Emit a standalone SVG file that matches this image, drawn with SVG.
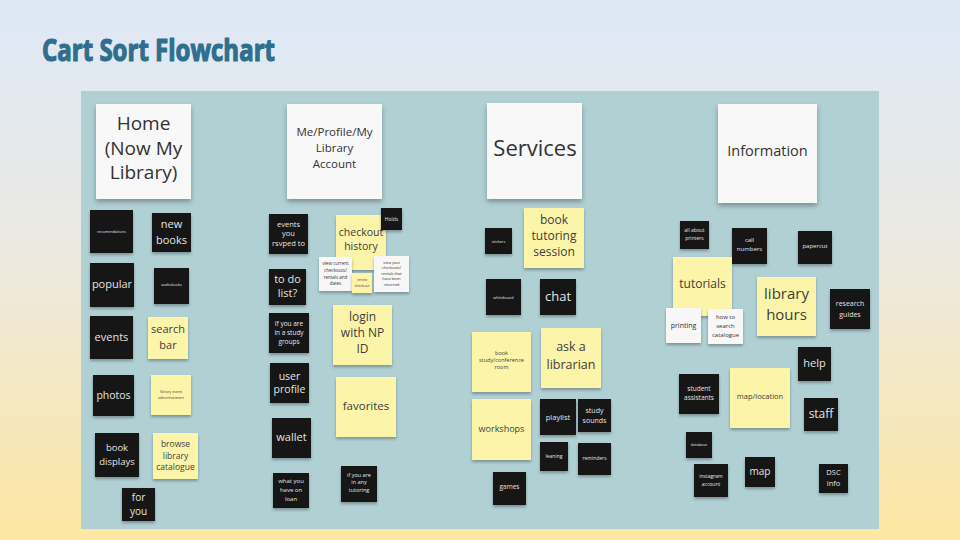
<svg xmlns="http://www.w3.org/2000/svg" width="960" height="540" viewBox="0 0 960 540">
<defs>
<linearGradient id="bg" x1="0" y1="0" x2="0" y2="1">
<stop offset="0" stop-color="#dde8f7"/>
<stop offset="0.45" stop-color="#ebe9e2"/>
<stop offset="1" stop-color="#fde7a2"/>
</linearGradient>
<filter id="sh" x="-20%" y="-20%" width="140%" height="150%">
<feDropShadow dx="0" dy="2" stdDeviation="1.5" flood-color="#000" flood-opacity="0.3"/>
</filter>
<filter id="shb" x="-20%" y="-20%" width="140%" height="150%">
<feDropShadow dx="0" dy="3" stdDeviation="2.5" flood-color="#000" flood-opacity="0.3"/>
</filter>
</defs>
<style>
text{font-family:"Open Sans","Noto Sans","DejaVu Sans",sans-serif;text-anchor:middle}
.blk{fill:#151515;filter:url(#sh)}
.yel{fill:#fcf5a9;filter:url(#sh)}
.wht{fill:#f7f7f7;filter:url(#sh)}
.hdr{fill:#f8f8f8;filter:url(#shb)}
.tb{fill:#e4e4e4}
.ty{fill:#3d3d3d}
.tw{fill:#333}
</style>
<rect width="960" height="540" fill="url(#bg)"/>
<text x="42" y="61" font-family="'Liberation Sans Narrow','DejaVu Sans Condensed','Liberation Sans',sans-serif" font-weight="bold" font-size="31" fill="#2f6e8c" stroke="#2f6e8c" stroke-width="1.2" stroke-linejoin="round" textLength="233" lengthAdjust="spacingAndGlyphs" style="text-anchor:start">Cart Sort Flowchart</text>
<rect id="board" x="81" y="91" width="798" height="438" fill="#b0d0d4"/>

<g id="hdr-home"><rect class="hdr" x="96" y="104" width="95" height="95"/><text class="tw" font-size="19" x="143.5"><tspan x="143.5" y="130">Home</tspan><tspan x="143.5" y="154.5">(Now My</tspan><tspan x="143.5" y="179">Library)</tspan></text></g>
<g id="hdr-profile"><rect class="hdr" x="287" y="104" width="95" height="95"/><text class="tw" font-size="11.5" x="334.5"><tspan x="334.5" y="136">Me/Profile/My</tspan><tspan x="334.5" y="152">Library</tspan><tspan x="334.5" y="168">Account</tspan></text></g>
<g id="hdr-services"><rect class="hdr" x="487" y="103" width="95" height="96"/><text class="tw" font-size="22" x="535" y="156">Services</text></g>
<g id="hdr-info"><rect class="hdr" x="718" y="104" width="99" height="99"/><text class="tw" font-size="14.5" x="767.5" y="156">Information</text></g>

<!-- Column 1 -->
<g id="n-recomendations"><rect class="blk" x="90" y="210" width="43" height="43"/><text class="tb" font-size="3.8" x="111.5" y="232.5">recomendations</text></g>
<g id="n-newbooks"><rect class="blk" x="152" y="213" width="39" height="39"/><text class="tb" font-size="11"><tspan x="171.5" y="228">new</tspan><tspan x="171.5" y="244">books</tspan></text></g>
<g id="n-popular"><rect class="blk" x="90" y="263" width="44" height="44"/><text class="tb" font-size="11" x="112" y="288">popular</text></g>
<g id="n-audiobooks"><rect class="blk" x="154" y="268" width="35" height="36"/><text class="tb" font-size="3.8" x="171.5" y="285.5">audiobooks</text></g>
<g id="n-events"><rect class="blk" x="90" y="316" width="43" height="43"/><text class="tb" font-size="11" x="111.5" y="341">events</text></g>
<g id="n-searchbar"><rect class="yel" x="148" y="317" width="40" height="42"/><text class="ty" font-size="11"><tspan x="168" y="333">search</tspan><tspan x="168" y="349">bar</tspan></text></g>
<g id="n-photos"><rect class="blk" x="93" y="375" width="41" height="41"/><text class="tb" font-size="10.5" x="113.5" y="399">photos</text></g>
<g id="n-libevent"><rect class="yel" x="151" y="375" width="40" height="40"/><text class="ty" font-size="3.8"><tspan x="171" y="393">library event</tspan><tspan x="171" y="398.5">advertisement</tspan></text></g>
<g id="n-bookdisplays"><rect class="blk" x="95" y="433" width="44" height="44"/><text class="tb" font-size="9.5"><tspan x="117" y="450.5">book</tspan><tspan x="117" y="464.5">displays</tspan></text></g>
<g id="n-browse"><rect class="yel" x="153" y="433" width="45" height="46"/><text class="ty" font-size="8.5"><tspan x="175.5" y="447">browse</tspan><tspan x="175.5" y="458.5">library</tspan><tspan x="175.5" y="470">catalogue</tspan></text></g>
<g id="n-foryou"><rect class="blk" x="122" y="488" width="33" height="33"/><text class="tb" font-size="10"><tspan x="138.5" y="500.5">for</tspan><tspan x="138.5" y="514.5">you</tspan></text></g>

<!-- Column 2 -->
<g id="n-rsvp"><rect class="blk" x="269" y="214" width="39" height="40"/><text class="tb" font-size="7.5"><tspan x="288.5" y="226.5">events</tspan><tspan x="288.5" y="235.5">you</tspan><tspan x="288.5" y="245.5">rsvped to</tspan></text></g>
<g id="n-checkout"><rect class="yel" x="336" y="215" width="50" height="55"/><text class="ty" font-size="10.5"><tspan x="361" y="236">checkout</tspan><tspan x="361" y="250">history</tspan></text></g>
<g id="n-holds"><rect class="blk" x="381" y="208" width="21" height="22"/><text class="tb" font-size="5" x="391.5" y="221">Holds</text></g>
<g id="n-viewcurrent"><rect class="wht" x="319" y="257" width="33" height="34"/><text class="tw" font-size="4.5"><tspan x="335.5" y="264.5">view current</tspan><tspan x="335.5" y="271.5">checkouts/</tspan><tspan x="335.5" y="278.5">rentals and</tspan><tspan x="335.5" y="285">dates</tspan></text></g>
<g id="n-renew"><rect class="yel" x="352" y="273" width="20" height="20"/><text class="ty" font-size="3.5"><tspan x="362" y="281">renew</tspan><tspan x="362" y="287">checkout</tspan></text></g>
<g id="n-viewpast"><rect class="wht" x="374" y="256" width="35" height="36"/><text class="tw" font-size="3.8"><tspan x="391.5" y="263.5">view past</tspan><tspan x="391.5" y="269">checkouts/</tspan><tspan x="391.5" y="274.5">rentals that</tspan><tspan x="391.5" y="280">have been</tspan><tspan x="391.5" y="285.5">returned</tspan></text></g>
<g id="n-todo"><rect class="blk" x="269" y="269" width="37" height="36"/><text class="tb" font-size="11"><tspan x="287.5" y="283">to do</tspan><tspan x="287.5" y="297">list?</tspan></text></g>
<g id="n-studygroups"><rect class="blk" x="269" y="313" width="40" height="40"/><text class="tb" font-size="6.5"><tspan x="289" y="326.3">if you are</tspan><tspan x="289" y="335.3">in a study</tspan><tspan x="289" y="344.3">groups</tspan></text></g>
<g id="n-login"><rect class="yel" x="333" y="305" width="59" height="60"/><text class="ty" font-size="12"><tspan x="362.5" y="321">login</tspan><tspan x="362.5" y="337">with NP</tspan><tspan x="362.5" y="353">ID</tspan></text></g>
<g id="n-userprofile"><rect class="blk" x="270" y="363" width="39" height="40"/><text class="tb" font-size="10.5"><tspan x="289.5" y="380">user</tspan><tspan x="289.5" y="393">profile</tspan></text></g>
<g id="n-favorites"><rect class="yel" x="336" y="377" width="60" height="60"/><text class="ty" font-size="11.5" x="366" y="410">favorites</text></g>
<g id="n-wallet"><rect class="blk" x="272" y="418" width="39" height="40"/><text class="tb" font-size="11" x="291.5" y="441">wallet</text></g>
<g id="n-onloan"><rect class="blk" x="273" y="473" width="36" height="35"/><text class="tb" font-size="6"><tspan x="291" y="483">what you</tspan><tspan x="291" y="492">have on</tspan><tspan x="291" y="501">loan</tspan></text></g>
<g id="n-tutoring"><rect class="blk" x="341" y="466" width="36" height="36"/><text class="tb" font-size="5.5"><tspan x="359" y="476.5">if you are</tspan><tspan x="359" y="484">in any</tspan><tspan x="359" y="492">tutoring</tspan></text></g>

<!-- Column 3 -->
<g id="n-stickers"><rect class="blk" x="485" y="228" width="27" height="26"/><text class="tb" font-size="3.8" x="498.5" y="242.5">stickers</text></g>
<g id="n-booktutoring"><rect class="yel" x="524" y="208" width="60" height="60"/><text class="ty" font-size="12"><tspan x="554" y="224">book</tspan><tspan x="554" y="240">tutoring</tspan><tspan x="554" y="256">session</tspan></text></g>
<g id="n-whiteboard"><rect class="blk" x="486" y="279" width="35" height="36"/><text class="tb" font-size="3.8" x="503.5" y="298.5">whiteboard</text></g>
<g id="n-chat"><rect class="blk" x="540" y="279" width="36" height="36"/><text class="tb" font-size="13" x="558" y="300.5">chat</text></g>
<g id="n-bookroom"><rect class="yel" x="472" y="332" width="59" height="60"/><text class="ty" font-size="5.5"><tspan x="501.5" y="355">book</tspan><tspan x="501.5" y="362">study/conference</tspan><tspan x="501.5" y="369">room</tspan></text></g>
<g id="n-asklib"><rect class="yel" x="541" y="328" width="60" height="60"/><text class="ty" font-size="12.5"><tspan x="571" y="351">ask a</tspan><tspan x="571" y="369">librarian</tspan></text></g>
<g id="n-workshops"><rect class="yel" x="472" y="399" width="59" height="61"/><text class="ty" font-size="9" x="501.5" y="432">workshops</text></g>
<g id="n-playlist"><rect class="blk" x="540" y="399" width="36" height="36"/><text class="tb" font-size="7.5" x="558" y="419.5">playlist</text></g>
<g id="n-studysounds"><rect class="blk" x="578" y="399" width="33" height="33"/><text class="tb" font-size="7"><tspan x="594.5" y="412.5">study</tspan><tspan x="594.5" y="422.5">sounds</tspan></text></g>
<g id="n-leaning"><rect class="blk" x="540" y="442" width="28" height="29"/><text class="tb" font-size="5" x="554" y="457.7">leaning</text></g>
<g id="n-reminders"><rect class="blk" x="578" y="443" width="33" height="32"/><text class="tb" font-size="5" x="594.5" y="459.7">reminders</text></g>
<g id="n-games"><rect class="blk" x="493" y="472" width="33" height="33"/><text class="tb" font-size="6.5" x="509.5" y="489.3">games</text></g>

<!-- Column 4 -->
<g id="n-printers"><rect class="blk" x="680" y="221" width="29" height="28"/><text class="tb" font-size="5"><tspan x="694.5" y="231.7">all about</tspan><tspan x="694.5" y="239.7">printers</tspan></text></g>
<g id="n-callnumbers"><rect class="blk" x="732" y="228" width="35" height="36"/><text class="tb" font-size="6"><tspan x="749.5" y="242">call</tspan><tspan x="749.5" y="251">numbers</tspan></text></g>
<g id="n-papercut"><rect class="blk" x="798" y="231" width="34" height="33"/><text class="tb" font-size="6" x="815" y="248">papercut</text></g>
<g id="n-tutorials"><rect class="yel" x="673" y="257" width="59" height="59"/><text class="ty" font-size="12" x="702.5" y="288">tutorials</text></g>
<g id="n-libhours"><rect class="yel" x="757" y="277" width="59" height="59"/><text class="ty" font-size="15"><tspan x="786.5" y="299">library</tspan><tspan x="786.5" y="320">hours</tspan></text></g>
<g id="n-research"><rect class="blk" x="830" y="289" width="40" height="40"/><text class="tb" font-size="7"><tspan x="850" y="305.5">research</tspan><tspan x="850" y="316.5">guides</tspan></text></g>
<g id="n-printing"><rect class="wht" x="666" y="308" width="35" height="35"/><text class="tw" font-size="7" x="683.5" y="327.5">printing</text></g>
<g id="n-howto"><rect class="wht" x="708" y="309" width="35" height="35"/><text class="tw" font-size="6"><tspan x="725.5" y="319">how to</tspan><tspan x="725.5" y="328">search</tspan><tspan x="725.5" y="337">catalogue</tspan></text></g>
<g id="n-help"><rect class="blk" x="798" y="347" width="33" height="34"/><text class="tb" font-size="11" x="814.5" y="367">help</text></g>
<g id="n-students"><rect class="blk" x="679" y="374" width="40" height="40"/><text class="tb" font-size="6.5"><tspan x="699" y="391">student</tspan><tspan x="699" y="400">assistants</tspan></text></g>
<g id="n-maploc"><rect class="yel" x="730" y="368" width="60" height="60"/><text class="ty" font-size="7.5" x="760" y="398.5">map/location</text></g>
<g id="n-staff"><rect class="blk" x="804" y="398" width="34" height="33"/><text class="tb" font-size="12" x="821" y="417.5">staff</text></g>
<g id="n-database"><rect class="blk" x="686" y="432" width="26" height="26"/><text class="tb" font-size="3.8" x="699" y="445.5">database</text></g>
<g id="n-instagram"><rect class="blk" x="694" y="464" width="34" height="33"/><text class="tb" font-size="5"><tspan x="711" y="477.7">instagram</tspan><tspan x="711" y="485.7">account</tspan></text></g>
<g id="n-map"><rect class="blk" x="745" y="457" width="30" height="30"/><text class="tb" font-size="10" x="760" y="474.5">map</text></g>
<g id="n-dsc"><rect class="blk" x="819" y="464" width="29" height="29"/><text class="tb" font-size="7.5"><tspan x="833.5" y="474.5">DSC</tspan><tspan x="833.5" y="485.5">info</tspan></text></g>
</svg>
